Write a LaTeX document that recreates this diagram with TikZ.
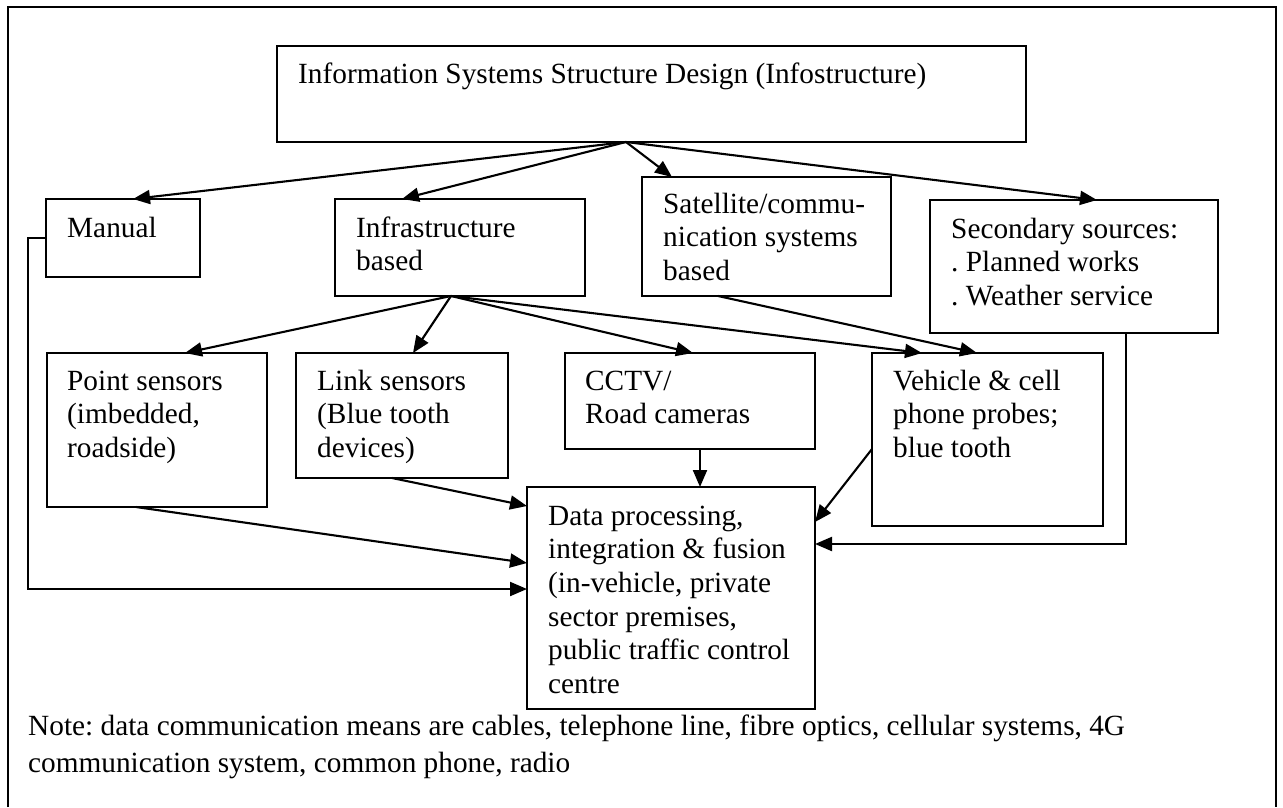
\documentclass[tikz,border=0pt]{standalone}
\usepackage{fontspec}
\setmainfont{Liberation Serif}
\frenchspacing
\usetikzlibrary{arrows.meta,calc}
\begin{document}
\begin{tikzpicture}[x=1pt,y=-1pt,
  box/.style={draw,line width=1.5pt,inner sep=0pt,outer sep=0pt,anchor=north west},
  lbl/.style={anchor=base west,inner sep=0pt,font=\fontsize{29.3}{33.7}\selectfont\frenchspacing},
  arr/.style={line width=2.1pt,-{Triangle[length=17pt,width=14pt]}}]
\useasboundingbox (0,0) rectangle (1283,807);
\draw[line width=1.6pt] (8,807) -- (8,7) -- (1276,7) -- (1276,807);
% boxes
\node[box,minimum width=749pt,minimum height=96pt] (top) at (277,46) {};
\node[box,minimum width=154pt,minimum height=78pt] (man) at (46,199) {};
\node[box,minimum width=250pt,minimum height=97pt] (inf) at (335,199) {};
\node[box,minimum width=249pt,minimum height=119pt] (sat) at (642,177) {};
\node[box,minimum width=288pt,minimum height=133pt] (sec) at (930,200) {};
\node[box,minimum width=220pt,minimum height=154pt] (pt) at (47,353) {};
\node[box,minimum width=212pt,minimum height=125pt] (lnk) at (296,353) {};
\node[box,minimum width=250pt,minimum height=96pt] (cctv) at (565,353) {};
\node[box,minimum width=231pt,minimum height=173pt] (veh) at (872,353) {};
\node[box,minimum width=288pt,minimum height=222pt] (data) at (527,487) {};
% texts
\node[lbl] (ttop) at (298,83) {Information Systems Structure Design (Infostructure)};
\node[lbl] (tman) at (67,237) {Manual};
\node[lbl] (tinf) at (356,237) {\begin{tabular}[t]{@{}l@{}}Infrastructure\\based\end{tabular}};
\node[lbl] (tsat) at (663,213) {\begin{tabular}[t]{@{}l@{}}Satellite/commu-\\nication systems\\based\end{tabular}};
\node[lbl] (tsec) at (951,238) {\begin{tabular}[t]{@{}l@{}}Secondary sources:\\. Planned works\\. Weather service\end{tabular}};
\node[lbl] (tpt) at (67,390) {\begin{tabular}[t]{@{}l@{}}Point sensors\\(imbedded,\\roadside)\end{tabular}};
\node[lbl] (tlnk) at (317,390) {\begin{tabular}[t]{@{}l@{}}Link sensors\\(Blue tooth\\devices)\end{tabular}};
\node[lbl] (tcctv) at (585,390) {\begin{tabular}[t]{@{}l@{}}CCTV/\\Road cameras\end{tabular}};
\node[lbl] (tveh) at (893,390) {\begin{tabular}[t]{@{}l@{}}Vehicle \& cell\\phone probes;\\blue tooth\end{tabular}};
\node[lbl] (tdata) at (548,525) {\begin{tabular}[t]{@{}l@{}}Data processing,\\integration \& fusion\\(in-vehicle, private\\sector premises,\\public traffic control\\centre\end{tabular}};
\node[lbl] (tnote) at (28,735) {\begin{tabular}[t]{@{}l@{}}Note: data communication means are cables, telephone line, fibre optics, cellular systems, 4G\\[4pt]communication system, common phone, radio\end{tabular}};
% connectors
\coordinate (topout) at ($(top.south west)+(349,0)$);
\draw[arr] (topout) -- ($(man.north west)+(87,0)$);
\draw[arr] (topout) -- ($(inf.north west)+(67,0)$);
\draw[arr] (topout) -- ($(sat.north west)+(30,0)$);
\draw[arr] (topout) -- ($(sec.north west)+(167,0)$);
\coordinate (infout) at ($(inf.south west)+(116,0)$);
\draw[arr] (infout) -- ($(pt.north west)+(138,0)$);
\draw[arr] (infout) -- ($(lnk.north west)+(117,0)$);
\draw[arr] (infout) -- ($(cctv.north west)+(128,0)$);
\draw[arr] (infout) -- ($(veh.north west)+(50,0)$);
\draw[arr] ($(sat.south west)+(76,0)$) -- ($(veh.north west)+(105,0)$);
\draw[arr] ($(cctv.south west)+(135,0)$) -- ($(data.north west)+(173,0)$);
\draw[arr] ($(lnk.south west)+(96,0)$) -- ($(data.north west)+(0,19)$);
\draw[arr] ($(pt.south west)+(89,0)$) -- ($(data.north west)+(0,76)$);
\draw[arr] ($(man.north west)+(0,39)$) -- ++(-18,0) |- ($(data.north west)+(0,102)$);
\draw[arr] ($(veh.north west)+(0,96)$) -- ($(data.north east)+(0,35)$);
\draw[arr] ($(sec.south west)+(196,0)$) |- ($(data.north east)+(0,57)$);
\end{tikzpicture}
\end{document}
